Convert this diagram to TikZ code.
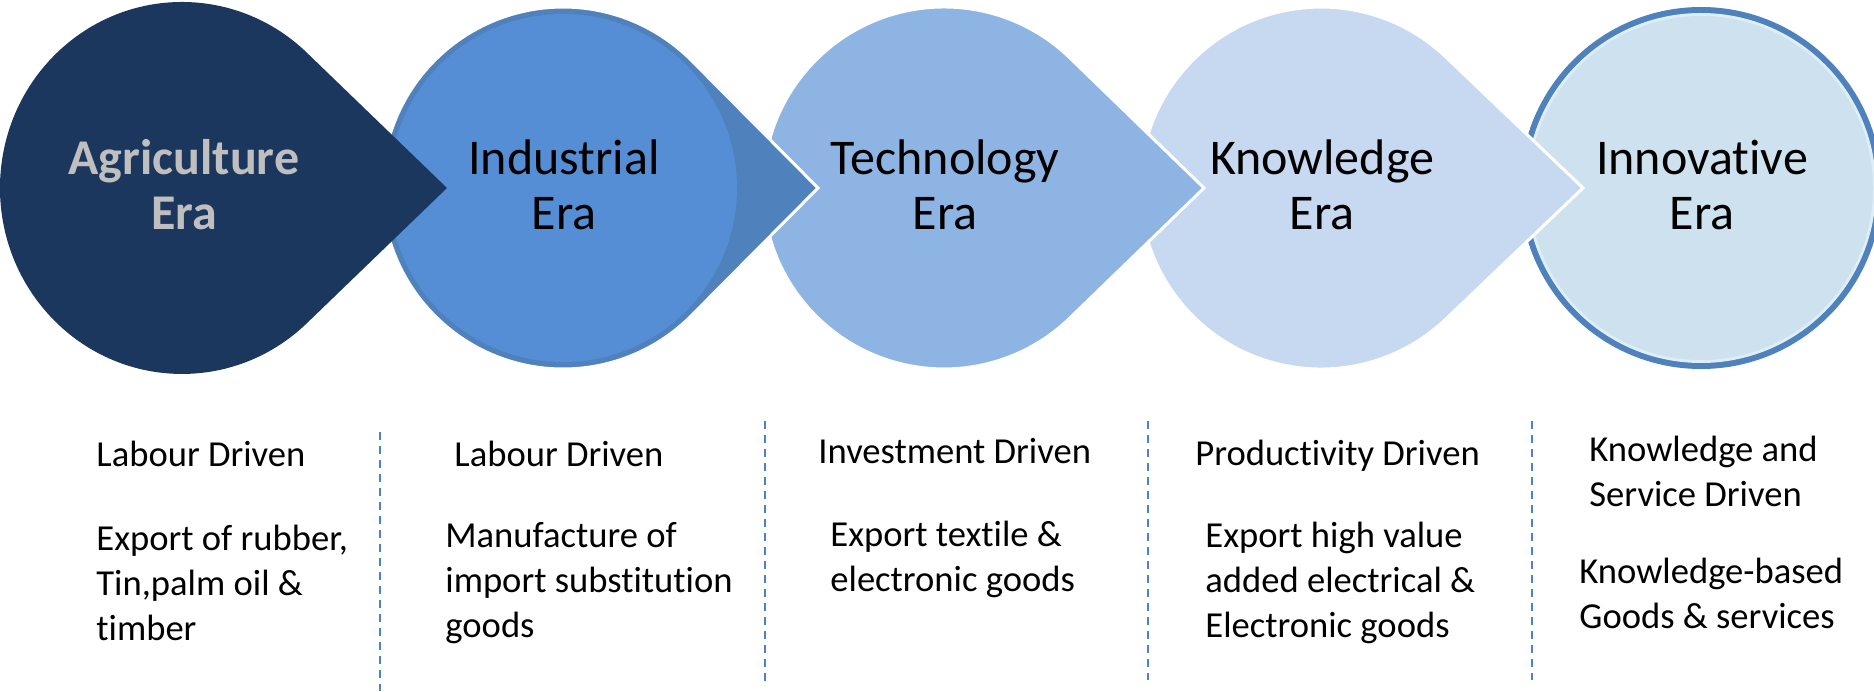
\documentclass[tikz,border=0pt]{standalone}
\usepackage{fontspec}
\setmainfont{Carlito}[Ligatures=NoCommon]
\definecolor{navy}{HTML}{1B375E}
\definecolor{indOuter}{HTML}{4F81BD}
\definecolor{indInner}{HTML}{558ED5}
\definecolor{techFill}{HTML}{8EB4E3}
\definecolor{knowFill}{HTML}{C6D9F1}
\definecolor{innoRing}{HTML}{4F81BD}
\definecolor{innoPale}{HTML}{DDEEF6}
\definecolor{innoFill}{HTML}{CDE2EE}
\definecolor{agriText}{HTML}{BFBFBF}
\definecolor{divBlue}{HTML}{4F81BD}
\begin{document}
\begin{tikzpicture}[x=0.5pt,y=0.5pt,
  titlefont/.style={font=\fontsize{25pt}{27.5pt}\selectfont},
  title/.style={titlefont, inner sep=0pt, anchor=base, align=center},
  body/.style={inner sep=0pt, anchor=base west, align=left,
    font=\fontsize{18.3pt}{22.5pt}\selectfont},
  divider/.style={draw=divBlue, line width=1pt, dash pattern=on 4pt off 3pt},
  outline/.style={draw=white, line width=1.5pt, line join=miter}]
\useasboundingbox (0,0) rectangle (1874,691);

% centres of the era discs and tips of their arrow heads
\coordinate (c1) at (182,503);  \coordinate (t1) at (447,503);
\coordinate (c2) at (563,503);  \coordinate (t2) at (818,503);
\coordinate (c3) at (944,503);  \coordinate (t3) at (1204,503);
\coordinate (c4) at (1321,503); \coordinate (t4) at (1583,503);
\coordinate (c5) at (1701,503);

% innovative era: ringed disc
\fill[innoRing] (c5) circle[radius=181];
\fill[innoPale] (c5) circle[radius=175];
\fill[innoFill] (c5) circle[radius=172];

% knowledge era
\path[fill=knowFill, outline] (t4) -- ([shift={(125.0,-130.9)}]c4)
  arc[start angle=-46.3, end angle=-313.7, radius=181] -- cycle;

% technology era
\path[fill=techFill, outline] (t3) -- ([shift={(126.0,-129.9)}]c3)
  arc[start angle=-45.88, end angle=-314.12, radius=181] -- cycle;

% industrial era: darker body with a lighter inner disc
\path[fill=indOuter, outline] (t2) -- ([shift={(128.5,-127.5)}]c2)
  arc[start angle=-44.78, end angle=-315.22, radius=181] -- cycle;
\fill[indInner] (c2) circle[radius=174];

% agriculture era
\fill[navy] (t1) -- ([shift={(125.0,-135.1)}]c1)
  arc[start angle=-46.6, end angle=-313.4, x radius=182, y radius=186] -- cycle;

% era titles (the base anchor sits on the last line)
\node[title, text=agriText, font=\fontsize{25pt}{27.5pt}\selectfont\bfseries]
  (agri) at (184,461) {Agriculture\\Era};
\node[title] (indu) at (564,461) {Industrial\\Era};
\node[title] (tech) at (945,461) {Technology\\Era};
\node[title] (know) at (1322,461) {Knowledge\\Era};
\node[title] (inno) at (1702,461) {Innovative\\Era};

% column dividers
\coordinate (d1t) at (380,259);  \coordinate (d1b) at (380,0);
\coordinate (d2t) at (765,270);  \coordinate (d2b) at (765,7);
\coordinate (d3t) at (1148,270); \coordinate (d3b) at (1148,11);
\coordinate (d4t) at (1532,270); \coordinate (d4b) at (1532,11);
\draw[divider] (d1t) -- (d1b);
\draw[divider] (d2t) -- (d2b);
\draw[divider] (d3t) -- (d3b);
\draw[divider] (d4t) -- (d4b);

% column texts (base anchor on the last line of each block)
\node[body] (drv1) at (96,224) {Labour Driven};
\node[body] (prd1) at (96,51) {Export of rubber,\\Tin,palm oil \&\\timber};
\node[body] (drv2) at (454,224) {Labour Driven};
\node[body] (prd2) at (445,54) {Manufacture of\\import substitution\\goods};
\node[body] (drv3) at (818,227) {Investment Driven};
\node[body] (prd3) at (830,99) {Export textile \&\\electronic goods};
\node[body] (drv4) at (1195,225) {Productivity Driven};
\node[body] (prd4) at (1205,54) {Export high value\\added electrical \&\\Electronic goods};
\node[body] (drv5) at (1589,184) {Knowledge and\\Service Driven};
\node[body] (prd5) at (1579,62) {Knowledge-based\\Goods \& services};
\end{tikzpicture}
\end{document}
